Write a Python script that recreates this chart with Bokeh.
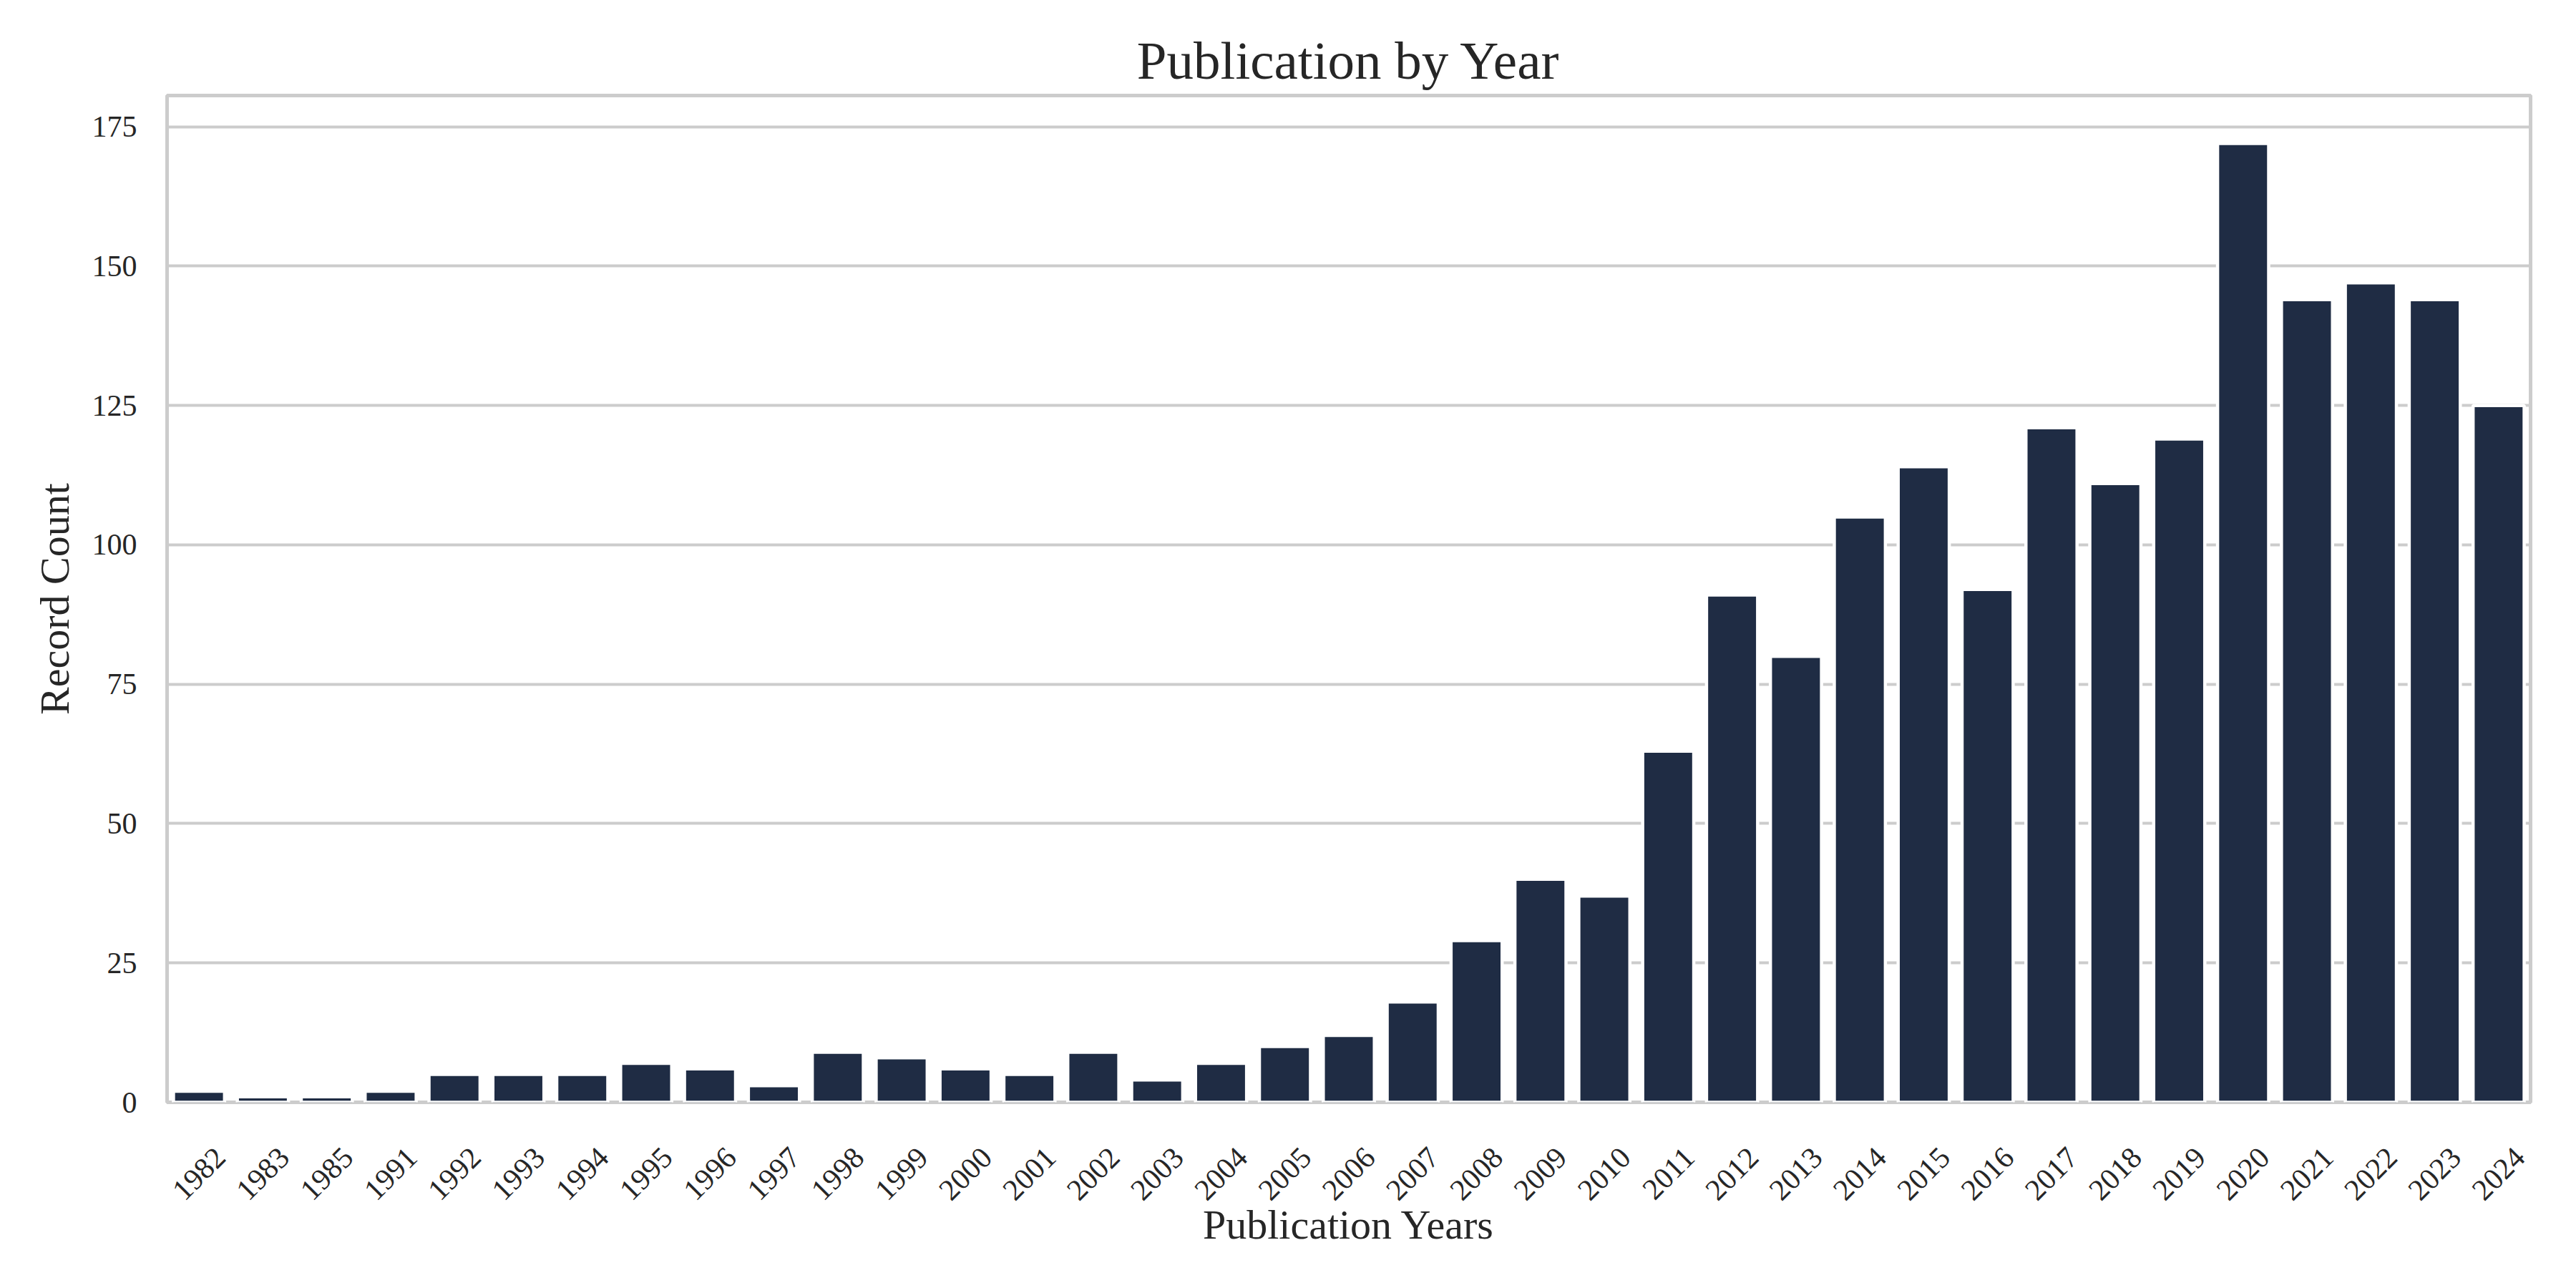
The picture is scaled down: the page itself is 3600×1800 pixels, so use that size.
import math
from bokeh.plotting import figure
from bokeh.models import (ColumnDataSource, Range1d, LinearAxis,
                          FixedTicker, LinearScale)
from bokeh.embed import file_html
from bokeh.resources import INLINE

# ---- data ----
years = ["1982", "1983", "1985", "1991", "1992", "1993", "1994", "1995", "1996",
         "1997", "1998", "1999", "2000", "2001", "2002", "2003", "2004", "2005",
         "2006", "2007", "2008", "2009", "2010", "2011", "2012", "2013", "2014",
         "2015", "2016", "2017", "2018", "2019", "2020", "2021", "2022", "2023",
         "2024"]
counts = [2, 1, 1, 2, 5, 5, 5, 7, 6,
          3, 9, 8, 6, 5, 9, 4, 7, 10,
          12, 18, 29, 40, 37, 63, 91, 80, 105,
          114, 92, 121, 111, 119, 172, 144, 147, 144,
          125]
y_ticks = [0, 25, 50, 75, 100, 125, 150, 175]
title_text = "Publication by Year"
x_label = "Publication Years"
y_label = "Record Count"

FONT = "Liberation Serif"
TEXT = "#262626"
GRID = "#cccccc"
BAR = "#1f2c44"

n = len(years)
pos = list(range(n))  # categorical slot index of each year
src = ColumnDataSource(dict(pos=pos, year=years, count=counts))

p = figure(width=3584, height=1784,
           x_range=Range1d(-0.5, n - 0.5),
           y_range=Range1d(0, 180.6),
           output_backend="svg", toolbar_location=None,
           title=title_text,
           min_border_left=233, min_border_right=48,
           min_border_top=133, min_border_bottom=244)
p.background_fill_color = "white"
p.border_fill_color = "white"

p.vbar(x="pos", top="count", width=0.8, source=src,
       fill_color=BAR, line_color="white", line_width=4.5)

# hide the default axis, use a shifted axis so rotated labels are centred on bars
p.xaxis.visible = False
shift = 0.33
p.extra_x_ranges = {"lab": Range1d(-0.5 - shift, n - 0.5 - shift)}
p.extra_x_scales = {"lab": LinearScale()}
xax = LinearAxis(x_range_name="lab",
                 ticker=FixedTicker(ticks=pos),
                 major_label_overrides={i: y for i, y in zip(pos, years)})
xax.major_label_orientation = math.pi / 4
xax.axis_label = x_label
p.add_layout(xax, "below")

for ax in (xax, p.yaxis[0]):
    ax.axis_line_color = None
    ax.major_tick_line_color = None
    ax.minor_tick_line_color = None
    ax.major_tick_in = 0
    ax.major_tick_out = 0
    ax.major_label_text_font = FONT
    ax.major_label_text_font_size = "42px"
    ax.major_label_text_color = TEXT
    ax.axis_label_text_font = FONT
    ax.axis_label_text_font_size = "58px"
    ax.axis_label_text_color = TEXT
    ax.axis_label_text_font_style = "normal"

xax.major_label_standoff = 70
xax.axis_label_standoff = -14

p.yaxis.ticker = FixedTicker(ticks=y_ticks)
p.yaxis.axis_label = y_label
p.yaxis.major_label_standoff = 42
p.yaxis.axis_label_standoff = 17

p.xgrid.visible = False
p.ygrid.grid_line_color = GRID
p.ygrid.grid_line_width = 4

p.outline_line_color = GRID
p.outline_line_width = 5

p.title.text_font = FONT
p.title.text_font_size = "75px"
p.title.text_font_style = "normal"
p.title.text_color = TEXT
p.title.align = "center"
p.title.standoff = 15

open("out.html", "w").write(file_html(p, INLINE))
